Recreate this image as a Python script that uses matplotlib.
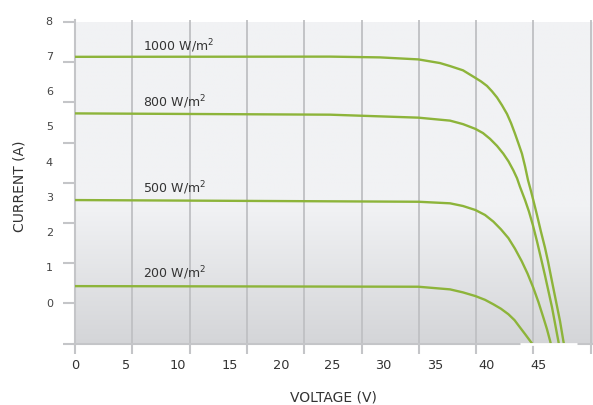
import numpy as np
import matplotlib
matplotlib.use("Agg")
import matplotlib.pyplot as plt
import matplotlib.transforms as mtransforms

plt.rcParams['font.family'] = ['DejaVu Sans']
plt.rcParams['mathtext.default'] = 'regular'

# ---- data ----
irradiance_labels = ["1000 W/m$^2$", "800 W/m$^2$", "500 W/m$^2$", "200 W/m$^2$"]

v_1000 = [0, 24.8, 29.64, 33.37, 35.47, 36.45, 37.71, 38.88, 39.46, 40.04, 40.53, 41.02,
          41.50, 41.99, 42.38, 42.77, 43.10, 43.44, 43.74, 44.03, 44.32, 44.54, 44.90,
          45.29, 45.68, 45.97, 46.36, 46.75, 47.14, 47.46, 47.51]
i_1000 = [7.135, 7.14, 7.121, 7.071, 6.980, 6.905, 6.799, 6.616, 6.523, 6.411, 6.276, 6.122,
          5.930, 5.712, 5.485, 5.218, 4.978, 4.724, 4.410, 4.064, 3.792, 3.570, 3.199,
          2.779, 2.384, 2.046, 1.544, 1.050, 0.556, 0.069, 0.0]

v_800 = [0, 24.8, 33.37, 36.45, 37.71, 38.91, 39.65, 40.33, 41.02, 41.63, 42.13, 42.60,
         42.96, 43.25, 43.74, 44.12, 44.51, 44.90, 45.36, 45.68, 46.02, 46.36, 46.65,
         46.97, 47.02]
i_800 = [5.727, 5.695, 5.621, 5.547, 5.460, 5.342, 5.238, 5.095, 4.917, 4.724, 4.534, 4.311,
         4.114, 3.899, 3.570, 3.285, 2.939, 2.545, 2.046, 1.692, 1.297, 0.902, 0.506,
         0.069, 0.0]

v_500 = [0, 33.37, 36.45, 37.71, 38.91, 39.85, 40.66, 41.40, 42.12, 42.76, 43.42, 43.98,
         44.54, 45.05, 45.52, 45.87, 46.17, 46.24]
i_500 = [3.570, 3.528, 3.489, 3.422, 3.323, 3.199, 3.034, 2.841, 2.624, 2.360, 2.046, 1.742,
         1.389, 1.025, 0.647, 0.358, 0.069, 0.0]

v_200 = [0, 33.37, 36.45, 37.71, 38.91, 39.85, 40.66, 41.40, 42.12, 42.72, 43.25, 43.74,
         44.22, 44.42]
i_200 = [1.428, 1.413, 1.347, 1.272, 1.181, 1.087, 0.976, 0.865, 0.729, 0.581, 0.400, 0.235,
         0.069, 0.0]

x_tick_labels = ["0", "5", "10", "15", "20", "25", "30", "35", "40", "45"]
y_tick_labels = ["0", "1", "2", "3", "4", "5", "6", "7", "8"]

curves = [(v_1000, i_1000), (v_800, i_800), (v_500, i_500), (v_200, i_200)]

# ---- figure ----
W, H = 593, 406
fig = plt.figure(figsize=(W / 100, H / 100), dpi=100)
ax = fig.add_axes([75 / W, 61.5 / H, (W - 75) / W, (344.5 - 20.7) / H])

xmax = 518 / 10.289
ax.set_xlim(0, xmax)
ax.set_ylim(0, 8)

# background gradient
light = np.array([241, 242, 244]) / 255
dark = np.array([212, 213, 216]) / 255
ys = np.linspace(0, 8, 400)
frac = np.clip((3.4 - ys) / 3.4, 0, 1)
grad = light[None, :] * (1 - frac[:, None]) + dark[None, :] * frac[:, None]
img = np.repeat(grad[:, None, :], 2, axis=1)
ax.imshow(img, extent=[0, xmax, 0, 8], origin='lower', aspect='auto', zorder=0,
          interpolation='bilinear')

gridc = '#bfc0c3'
grid_step = 57.3 / 10.289
grid_pos = grid_step * np.arange(10)
for gx in grid_pos[1:]:
    ax.axvline(gx, color=gridc, lw=1.3, zorder=1)

line_color = '#8db43a'
for v, i in curves:
    ax.plot(v, i, color=line_color, lw=1.7, zorder=3, solid_capstyle='butt',
            solid_joinstyle='round')

# curve labels
label_x = (143.3 - 75) / 10.289
offsets_px = [7.4, 7.7, 8.4, 9.4]
for (v, i), txt, off in zip(curves, irradiance_labels, offsets_px):
    tr = ax.transData + mtransforms.ScaledTranslation(0, off / 100, fig.dpi_scale_trans)
    ax.text(label_x, i[0], txt, transform=tr, fontsize=9, color='#333333',
            ha='left', va='baseline', zorder=4)

# white segment over the bottom axis
ax.plot([(520 - 75) / 10.289, (577 - 75) / 10.289], [0, 0], color='white', lw=2,
        zorder=5, clip_on=False, solid_capstyle='butt')

# spines
for s in ['top', 'right']:
    ax.spines[s].set_visible(False)
for s in ['left', 'bottom']:
    ax.spines[s].set_color('#c4c5c8')
    ax.spines[s].set_linewidth(1.5)
    ax.spines[s].set_zorder(2)

# ticks: major marks without labels, minor ones carry labels
ax.xaxis.remove_overlapping_locs = False
ax.yaxis.remove_overlapping_locs = False
ax.set_yticks(np.arange(9))
ax.set_yticklabels([])
ax.set_xticks(grid_pos)
ax.set_xticklabels([])
ax.tick_params(axis='y', which='major', length=9, width=1.5, color='#c4c5c8', direction='out')
ax.tick_params(axis='x', which='major', length=7, width=1.5, color='#c4c5c8', direction='out')

y_label_pos = 1.043 + 0.877 * np.arange(len(y_tick_labels))
ax.set_yticks(y_label_pos, minor=True)
ax.set_yticklabels(y_tick_labels, minor=True)
x_label_pos = 5 * np.arange(len(x_tick_labels))
ax.set_xticks(x_label_pos, minor=True)
ax.set_xticklabels(x_tick_labels, minor=True)
ax.tick_params(axis='y', which='minor', length=0, pad=16, labelsize=8, labelcolor='#444444')
ax.tick_params(axis='x', which='minor', length=0, pad=10.5, labelsize=9.3, labelcolor='#333333')

fig.text(20 / W, 1 - 186 / H, "CURRENT (A)", rotation=90, ha='center', va='center',
         fontsize=10, color='#333333')
fig.text(333 / W, 1 - 398 / H, "VOLTAGE (V)", ha='center', va='center',
         fontsize=10, color='#333333')

fig.savefig("out.png", dpi=100)
